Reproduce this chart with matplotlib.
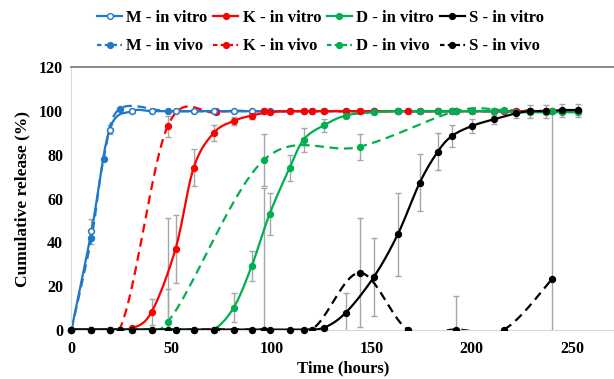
import numpy as np
import matplotlib.pyplot as plt
from matplotlib.lines import Line2D

plt.rcParams['font.family'] = ['Liberation Serif', 'DejaVu Serif']
plt.rcParams['font.weight'] = 'bold'

# in vitro sampling times (hours)
t_vitro = [0, 10, 19, 30, 40, 52, 61, 71, 81, 90, 99, 109, 116, 126, 137, 151,
           163, 174, 183, 190, 200, 211, 222, 229, 237, 245, 253]
m_vitro = [0, 45, 91.5, 100, 100, 100, 100, 100, 100, 100, 100, 100, 100, 100, 100, 100,
           100, 100, 100, 100, 100, 100, 100, 100, 100, 100, 100]
m_vitro_err = [0, 5.7, 2, 1, 0.5, 0.5, 0.5, 0.5, 0.5, 0.5, 0.5, 0.5, 0.5, 0.5, 0.5, 0.5,
               0.5, 0.5, 0.5, 0.5, 0.5, 0.5, 0.5, 0.5, 0.5, 0.5, 0.5]
k_vitro = [0, 0, 0, 0.5, 8, 37, 74, 90, 95.5, 98, 99.5, 100, 100, 100, 100, 100,
           100, 100, 100, 100, 100, 100, 100, 100, 100, 100, 100]
k_vitro_err = [0, 0, 0, 0.5, 6, 15.5, 8.5, 3.5, 2, 1.5, 1, 1, 1, 1, 1, 1,
               1, 1, 1, 1, 1, 1, 1, 1, 1, 1, 1]
d_vitro = [0, 0, 0, 0, 0, 0, 0, 0, 10, 29, 53, 74, 87, 93.5, 98, 99.5,
           100, 100, 100, 100, 100, 100, 99.5, 99.5, 99.5, 99.5, 99.5]
d_vitro_err = [0, 0, 0, 0, 0, 0, 0, 0, 6.5, 7, 9.5, 6, 5.5, 3, 1, 1,
               1, 1, 1, 1, 1, 1, 1, 1, 1, 1, 1]
s_vitro = [0, 0, 0, 0, 0, 0, 0, 0, 0, 0, 0, 0, 0, 0.8, 7.7, 24,
           43.6, 67.3, 81.5, 88.6, 93.2, 96.3, 99, 100, 100, 100.5, 100.5]
s_vitro_err = [0, 0, 0, 0, 0, 0, 0, 0, 0, 0, 0, 0, 0, 1, 9, 18,
               19, 13, 8.5, 5, 3, 2, 2, 3, 3, 3, 3]

# in vivo sampling times (hours)
t_m_vivo = [0, 10, 16, 24, 48, 72, 96, 120, 144, 168, 192, 216, 240]
m_vivo = [0, 42, 78, 101, 100, 100, 100, 100, 100, 100, 100, 100, 100]
m_vivo_err = [0, 0, 0, 0, 0, 0, 0, 0, 0, 0, 0, 0, 0]
t_vivo = [0, 24, 48, 72, 96, 120, 144, 168, 192, 216, 240]
k_vivo = [0, 0, 93, 99.5, 100, 100, 100, 100, 100, 100, 100]
k_vivo_err = [0, 0, 5, 1, 1, 1, 1, 1, 1, 1, 1]
t_d_vivo = [0, 24, 48, 96, 144, 192, 216, 240]
d_vivo = [0, 0, 3.4, 77.6, 83.7, 100, 100.5, 100]
d_vivo_err = [0, 0, 15, 12, 6, 1, 1, 1]
s_vivo = [0, 0, 0, 0, 0, 0, 26, 0, 0, 0, 23]
s_vivo_err = [0, 0, 51, 0, 65, 0, 25, 0, 15.5, 0, 77]


def smooth(x, y, n=24):
    # Excel style smoothed line (Bezier through points)
    p = np.column_stack([x, y]).astype(float)
    out = [p[0]]
    for i in range(len(p) - 1):
        p0 = p[i - 1] if i > 0 else p[i]
        p1 = p[i]
        p2 = p[i + 1]
        p3 = p[i + 2] if i + 2 < len(p) else p[i + 1]
        c1 = p1 + (p2 - p0) / 6
        c2 = p2 - (p3 - p1) / 6
        s = np.linspace(0, 1, n)[1:, None]
        seg = (1 - s) ** 3 * p1 + 3 * (1 - s) ** 2 * s * c1 + 3 * (1 - s) * s ** 2 * c2 + s ** 3 * p2
        out.extend(seg)
    out = np.array(out)
    return out[:, 0], out[:, 1]


blue = '#1f78c8'
red = '#ff0000'
green = '#00b050'
black = '#000000'
dash = (0, (4, 2.5))

fig = plt.figure(figsize=(6.14, 3.79), dpi=100)
ax = fig.add_axes([0.1164, 0.1306, 0.8836, 0.6913])

series = [
    (t_m_vivo, m_vivo, m_vivo_err, blue, dash, blue),
    (t_vivo, k_vivo, k_vivo_err, red, dash, red),
    (t_d_vivo, d_vivo, d_vivo_err, green, dash, green),
    (t_vivo, s_vivo, s_vivo_err, black, dash, black),
    (t_vitro, m_vitro, m_vitro_err, blue, '-', 'white'),
    (t_vitro, k_vitro, k_vitro_err, red, '-', red),
    (t_vitro, d_vitro, d_vitro_err, green, '-', green),
    (t_vitro, s_vitro, s_vitro_err, black, '-', black),
]

for x, y, e, c, ls, fc in series:
    ax.errorbar(x, y, yerr=e, fmt='none', ecolor='#a6a6a6', elinewidth=1,
                capsize=2, capthick=1, zorder=1)
for x, y, e, c, ls, fc in series:
    sx, sy = smooth(x, y)
    ax.plot(sx, sy, color=c, linestyle=ls, lw=1.6, zorder=2)
    ax.plot(x, y, 'o', color=c, mfc=fc, mec=c, ms=4.2, mew=1.1, zorder=3,
            clip_on=(ls != '-'))

ax.set_xlim(0, 271)
ax.set_ylim(0, 120)
ax.set_xticks([0, 50, 100, 150, 200, 250])
ax.set_yticks([0, 20, 40, 60, 80, 100, 120])
ax.tick_params(length=0, labelsize=11.5, pad=6)
ax.tick_params(axis='x', pad=8)
for lab in ax.get_xticklabels() + ax.get_yticklabels():
    lab.set_fontweight('bold')
ax.spines['right'].set_visible(False)
ax.spines['top'].set_color('#7f7f7f')
ax.spines['top'].set_linewidth(1.3)
ax.spines['left'].set_color('#d9d9d9')
ax.spines['bottom'].set_color('#d9d9d9')
ax.set_xlabel('Time (hours)', fontsize=12, fontweight='bold', labelpad=3)
ax.set_ylabel('Cumulative release (%)', fontsize=12.5, fontweight='bold', labelpad=6)

names = ['M', 'K', 'D', 'S']
cols = [blue, red, green, black]
handles = []
labels = []
for nm, c in zip(names, cols):
    handles.append(Line2D([], [], color=c, lw=1.6, marker='o', ms=4.2,
                          mfc='white' if nm == 'M' else c, mec=c))
    labels.append(nm + ' - in vitro')
    handles.append(Line2D([], [], color=c, lw=1.6, ls=(0, (2, 1.5)), marker='o', ms=4.2,
                          mfc=c, mec=c))
    labels.append(nm + ' - in vivo')
fig.legend(handles, labels, ncol=4, loc='center', bbox_to_anchor=(0.522, 0.915),
           frameon=False, handlelength=1.5, handletextpad=0.25,
           columnspacing=0.35, labelspacing=0.75, prop={'weight': 'bold', 'size': 12})

fig.savefig('out.png', dpi=100)
